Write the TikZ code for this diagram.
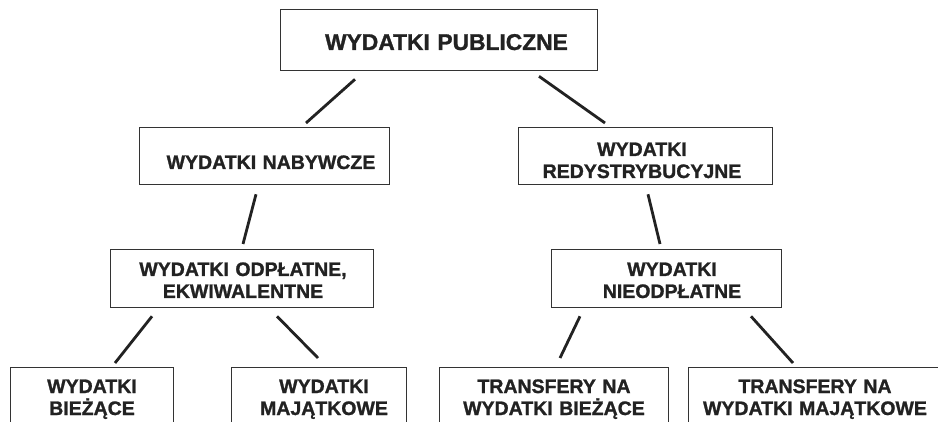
\documentclass[tikz,border=0pt]{standalone}
\usepackage{fontspec}
\setmainfont{Liberation Sans}[BoldFeatures={FakeBold=1.2}]
\definecolor{ink}{HTML}{222222}
\definecolor{frame}{HTML}{333333}
\begin{document}
\begin{tikzpicture}[x=1pt,y=-1pt,
  box/.style={draw=frame, line width=1.3pt, inner sep=0pt, anchor=north west},
  txt/.style={anchor=base, text width=300pt, align=center, inner sep=0pt, text=ink,
    font=\bfseries\fontsize{19.5}{22}\selectfont},
  ttl/.style={txt, font=\bfseries\fontsize{22.8}{26}\selectfont},
  conn/.style={draw=ink, line width=2.8pt}]
\clip (0,0) rectangle (938,422);
\fill[white] (0,0) rectangle (938,422);
% boxes
\node[box, minimum width=317pt, minimum height=61pt] (top) at (280,9) {};
\node[box, minimum width=250pt, minimum height=57pt] (nab) at (139,127) {};
\node[box, minimum width=254pt, minimum height=57pt] (red) at (518,127) {};
\node[box, minimum width=263pt, minimum height=58pt] (odp) at (110,249) {};
\node[box, minimum width=230pt, minimum height=58pt] (nie) at (551,249) {};
\node[box, minimum width=163pt, minimum height=80pt] (b1) at (10,367) {};
\node[box, minimum width=175pt, minimum height=80pt] (b2) at (231,367) {};
\node[box, minimum width=229pt, minimum height=80pt] (b3) at (439,367) {};
\node[box, minimum width=254pt, minimum height=80pt] (b4) at (688,367) {};
% texts
\node[ttl] (ttop) at (446.5,50) {WYDATKI PUBLICZNE};
\node[txt] (tnab) at (271,169) {WYDATKI NABYWCZE};
\node[txt] (tred) at (642,156) {WYDATKI\\REDYSTRYBUCYJNE};
\node[txt] (todp) at (243,276) {WYDATKI ODPŁATNE,\\EKWIWALENTNE};
\node[txt] (tnie) at (672,276) {WYDATKI\\NIEODPŁATNE};
\node[txt] (tb1) at (92,393) {WYDATKI\\BIEŻĄCE};
\node[txt] (tb2) at (324,393) {WYDATKI\\MAJĄTKOWE};
\node[txt] (tb3) at (554,393) {TRANSFERY NA\\WYDATKI BIEŻĄCE};
\node[txt] (tb4) at (815,393) {TRANSFERY NA\\WYDATKI MAJĄTKOWE};
% connectors
\draw[conn] ([xshift=75pt,yshift=-8pt]top.south west) -- ([xshift=167pt,yshift=4pt]nab.north west);
\draw[conn] ([xshift=259pt,yshift=-5pt]top.south west) -- ([xshift=87pt,yshift=4pt]red.north west);
\draw[conn] ([xshift=117pt,yshift=-9pt]nab.south west) -- ([xshift=133pt,yshift=5pt]odp.north west);
\draw[conn] ([xshift=130pt,yshift=-9pt]red.south west) -- ([xshift=109pt,yshift=5pt]nie.north west);
\draw[conn] ([xshift=42pt,yshift=-8pt]odp.south west) -- ([xshift=105pt,yshift=4pt]b1.north west);
\draw[conn] ([xshift=167pt,yshift=-8pt]odp.south west) -- ([xshift=87pt,yshift=9pt]b2.north west);
\draw[conn] ([xshift=29pt,yshift=-8pt]nie.south west) -- ([xshift=121pt,yshift=9pt]b3.north west);
\draw[conn] ([xshift=200pt,yshift=-8pt]nie.south west) -- ([xshift=105pt,yshift=4pt]b4.north west);
\end{tikzpicture}
\end{document}
